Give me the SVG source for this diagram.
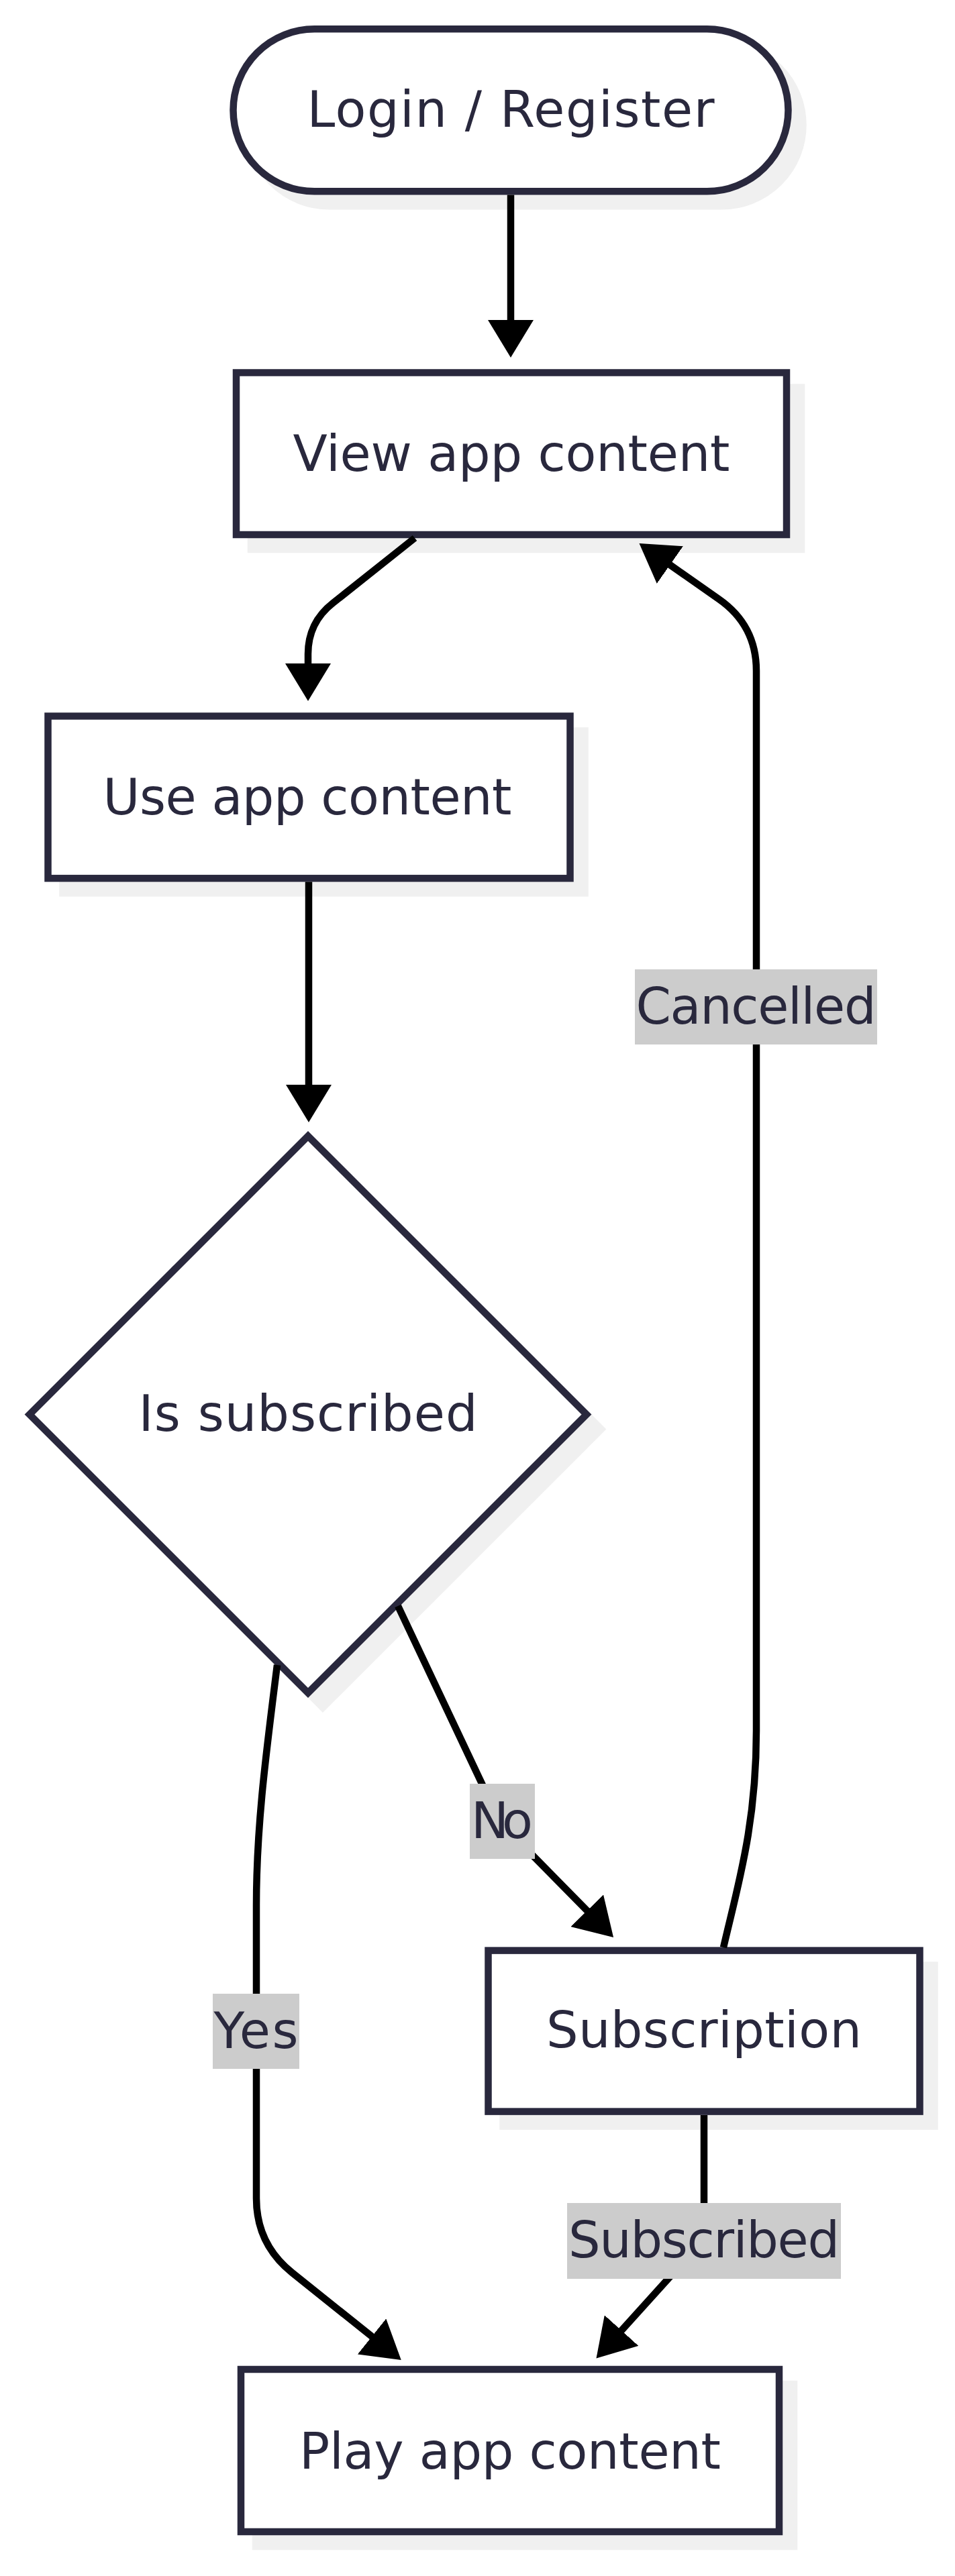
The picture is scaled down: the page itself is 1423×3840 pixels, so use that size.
<svg xmlns="http://www.w3.org/2000/svg" width="1423" height="3840" viewBox="0 0 1423 3840">
<style>
  .node { fill: #ffffff; stroke: #29283d; stroke-width: 10.5; }
  .shadow { fill: #f0f0f0; stroke: #f0f0f0; stroke-width: 10.5; }
  .label { font-family: "DejaVu Sans", "Liberation Sans", sans-serif; font-size: 75px; fill: #29283d; text-anchor: middle; }
  .edge { fill: none; stroke: #000000; stroke-width: 10.5; }
  .lblbg { fill: #cccccc; }
</style>
<defs>
  <marker id="arrow" viewBox="0 0 56 68" refX="2" refY="34" markerWidth="56" markerHeight="68" markerUnits="userSpaceOnUse" orient="auto">
    <path d="M0,0 L56,34 L0,68 Z" fill="#000000"/>
  </marker>
</defs>
<rect width="1423" height="3840" fill="#ffffff"/>

<g id="node-login">
  <rect class="shadow" x="369.5" y="65.3" width="827" height="242" rx="121" ry="121"/>
  <rect class="node" x="347.5" y="43.3" width="827" height="242" rx="121" ry="121"/>
  <text class="label" x="761" y="189" textLength="607" lengthAdjust="spacing">Login / Register</text>
</g>

<g id="node-view">
  <rect class="shadow" x="374" y="577.5" width="820" height="241.5"/>
  <rect class="node" x="352" y="555.5" width="820" height="241.5"/>
  <text class="label" x="762" y="702" textLength="651" lengthAdjust="spacing">View app content</text>
</g>

<g id="node-use">
  <rect class="shadow" x="93.5" y="1089.5" width="778" height="241.8"/>
  <rect class="node" x="71.5" y="1067.5" width="778" height="241.8"/>
  <text class="label" x="458" y="1213.6" textLength="609" lengthAdjust="spacing">Use app content</text>
</g>

<g id="node-decision">
  <polygon class="shadow" points="481,1715.5 896,2130.5 481,2545.5 66,2130.5"/>
  <polygon class="node" points="459,1693.5 874,2108.5 459,2523.5 44,2108.5"/>
  <text class="label" x="459" y="2133" textLength="505" lengthAdjust="spacing">Is subscribed</text>
</g>

<g id="node-subscription">
  <rect class="shadow" x="749.5" y="2929.6" width="643" height="240"/>
  <rect class="node" x="727.5" y="2907.6" width="643" height="240"/>
  <text class="label" x="1049" y="3052" textLength="470" lengthAdjust="spacing">Subscription</text>
</g>

<g id="node-play">
  <rect class="shadow" x="381" y="3554" width="802" height="242"/>
  <rect class="node" x="359" y="3532" width="802" height="242"/>
  <text class="label" x="760" y="3679.5" textLength="628" lengthAdjust="spacing">Play app content</text>
</g>

<g id="connectors">
  <path class="edge" marker-end="url(#arrow)" d="M761,290.5 L761,479"/>
  <path class="edge" marker-end="url(#arrow)" d="M618,802 L496,899 Q459,928 459,975 L459,991"/>
  <path class="edge" marker-end="url(#arrow)" d="M460,1314.5 L460,1619"/>
  <path class="edge" marker-end="url(#arrow)" d="M413,2482 C397,2610 382,2720 382,2840 L382,3277 Q382,3345 435,3387.6 L555.6,3484.2"/>
  <path class="edge" marker-end="url(#arrow)" d="M593,2394 L720,2663 Q746,2717 788,2760 L876.2,2849.6"/>
  <path class="edge" marker-end="url(#arrow)" d="M1078,2903 C1100,2808 1127,2720 1127,2580 L1127,1000 Q1127,932 1071,893 L996.7,840.9"/>
  <path class="edge" marker-end="url(#arrow)" d="M1049,3153 L1049,3290 Q1049,3338 1016.8,3373.6 L924.7,3475.5"/>
</g>

<g id="edge-labels">
  <g id="label-cancelled">
    <rect class="lblbg" x="946" y="1445" width="361" height="112"/>
    <text class="label" x="1126.5" y="1525.5" textLength="358" lengthAdjust="spacing">Cancelled</text>
  </g>
  <g id="label-no">
    <rect class="lblbg" x="700" y="2659" width="97" height="112"/>
    <text class="label" x="748" y="2739.5" textLength="92" lengthAdjust="spacing">No</text>
  </g>
  <g id="label-yes">
    <rect class="lblbg" x="317" y="2972" width="129" height="112"/>
    <text class="label" x="381.5" y="3052.5" textLength="126" lengthAdjust="spacing">Yes</text>
  </g>
  <g id="label-subscribed">
    <rect class="lblbg" x="845" y="3284" width="408" height="113"/>
    <text class="label" x="1049" y="3364.5" textLength="404" lengthAdjust="spacing">Subscribed</text>
  </g>
</g>
</svg>
